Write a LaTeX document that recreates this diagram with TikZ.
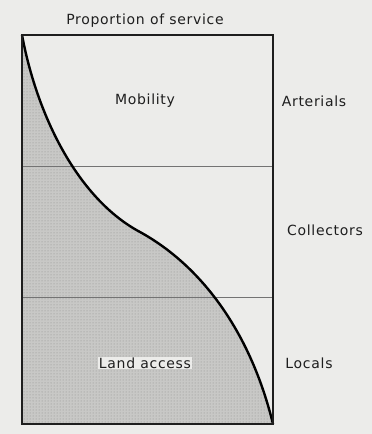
\documentclass[tikz,border=0pt]{standalone}
\usepackage{fontspec}
\setmainfont[LetterSpace=5]{DejaVu Sans}
\usetikzlibrary{patterns}
\definecolor{paper}{RGB}{236,236,234}
\definecolor{ink}{RGB}{30,30,30}
\definecolor{stipple}{RGB}{200,200,198}
\tikzset{
  lbl/.style={font=\fontsize{14}{16}\selectfont, text=ink, inner sep=1pt},
  frame/.style={draw=ink, line width=1.6pt},
  divider/.style={draw=black!55, line width=0.8pt},
  curve/.style={draw=black, line width=2.4pt},
}
\begin{document}
\begin{tikzpicture}[x=1pt,y=-1pt]
\fill[paper] (0,0) rectangle (372,434);
\useasboundingbox (0,0) rectangle (372,434);
\coordinate (tl) at (22,35);
\coordinate (br) at (273,424);
\coordinate (bl) at (22,424);
\coordinate (tr) at (273,35);
\coordinate (mid) at (140,232);
% shaded land-access share
\fill[stipple] (tl) .. controls (38,120) and (80,200) .. (mid)
   .. controls (200,265) and (250,330) .. (br) -- (bl) -- cycle;
\fill[pattern=dots, pattern color=black!45] (tl) .. controls (38,120) and (80,200) .. (mid)
   .. controls (200,265) and (250,330) .. (br) -- (bl) -- cycle;
% dividers
\coordinate (d1l) at (22,166); \coordinate (d1r) at (273,166);
\coordinate (d2l) at (22,297); \coordinate (d2r) at (273,297);
\draw[divider] (d1l) -- (d1r);
\draw[divider] (d2l) -- (d2r);
% curve
\draw[curve] (tl) .. controls (38,120) and (80,200) .. (mid)
   .. controls (200,265) and (250,330) .. (br);
% frame
\draw[frame] (tl) rectangle (br);
% labels
\node[lbl] (title) at (145,21) {Proportion of service};
\node[lbl] (mob) at (145,101) {Mobility};
\node[lbl] (art) at (314,101) {Arterials};
\node[lbl] (col) at (325,230) {Collectors};
\node[lbl, fill=paper] (land) at (145,363) {Land access};
\node[lbl] (loc) at (309,363) {Locals};
\end{tikzpicture}
\end{document}
